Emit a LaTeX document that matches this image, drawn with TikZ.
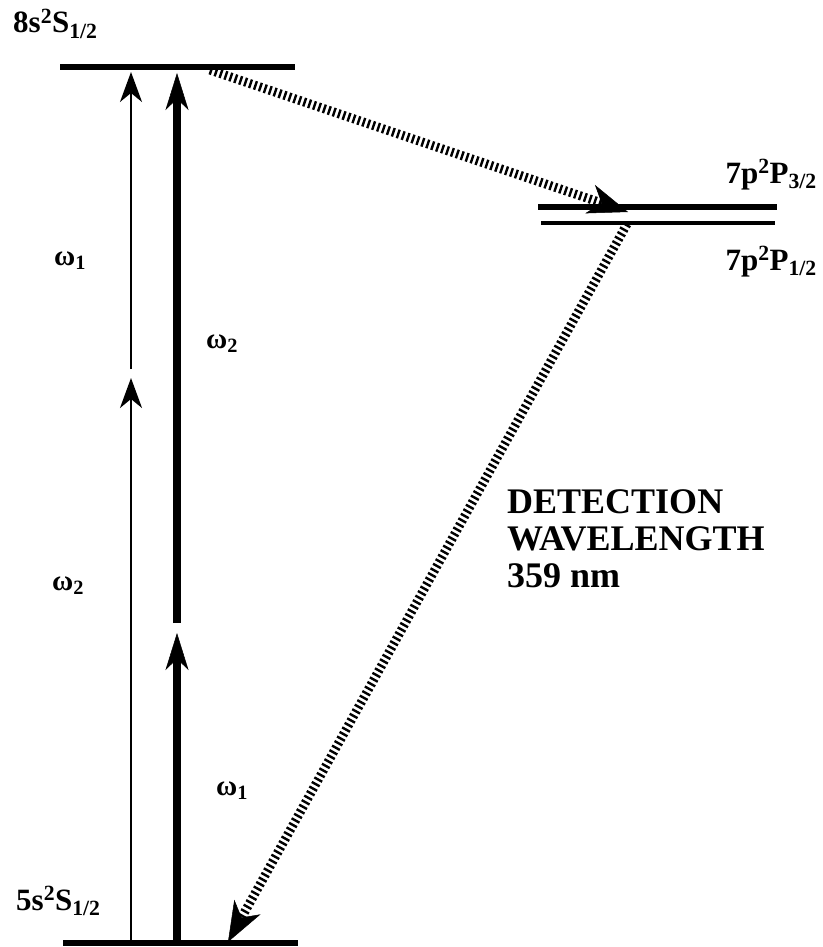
\documentclass[tikz,border=0pt]{standalone}
\usepackage{fontspec}
\setmainfont{Liberation Serif}
\usetikzlibrary{arrows.meta}
\usetikzlibrary{positioning}

\begin{document}
\begin{tikzpicture}[x=1pt,y=-1pt,
  level/.style={line width=5.5pt},
  lbl/.style={inner sep=0pt,font=\fontsize{31}{34}\selectfont\bfseries},
  freq/.style={inner sep=0pt,font=\fontsize{29}{32}\selectfont\bfseries},
  weak/.style={line width=1.8pt,-{Stealth[length=30pt,width=22pt,inset=9pt]}},
  strong/.style={line width=8pt,-{Stealth[length=37pt,width=23pt,inset=11pt,line width=0.5pt]}},
  fluor/.style={line width=9pt,dash pattern=on 2.4pt off 2.8pt,-{Stealth[length=40pt,width=30pt,inset=12pt,line width=0.5pt]}}]

  \useasboundingbox (0,0) rectangle (822,947);

  % Energy levels
  \coordinate (s8w) at (60,67);   \coordinate (s8e) at (295,67);
  \coordinate (p3w) at (538,207); \coordinate (p3e) at (777,207);
  \coordinate (p1w) at (541,223); \coordinate (p1e) at (775,223);
  \coordinate (s5w) at (63,943);  \coordinate (s5e) at (298,943);
  \draw[level,line width=6.5pt] (s8w) -- (s8e);
  \draw[level] (p3w) -- (p3e);
  \draw[level,line width=3.5pt] (p1w) -- (p1e);
  \draw[level] (s5w) -- (s5e);

  \node[lbl,anchor=base west] (l8s) at (13,33) {8s\textsuperscript{2}S\textsubscript{1/2}};
  \node[lbl,anchor=base east] (l7p3) at (817,183) {7p\textsuperscript{2}P\textsubscript{3/2}};
  \node[lbl,anchor=base east] (l7p1) at (817,270) {7p\textsuperscript{2}P\textsubscript{1/2}};
  \node[lbl,anchor=base west] (l5s) at (16,910) {5s\textsuperscript{2}S\textsubscript{1/2}};

  % Two-photon excitation, omega_1 + omega_2
  \coordinate (wa0) at (131,943); \coordinate (wa1) at (131,378);
  \coordinate (wa2) at (131,369); \coordinate (wa3) at (131,72);
  \coordinate (sa0) at (177,943); \coordinate (sa1) at (177,633);
  \coordinate (sa2) at (177,623); \coordinate (sa3) at (177,73);
  \draw[weak] (wa0) -- (wa1);
  \draw[weak] (wa2) -- (wa3);
  \draw[strong] (sa0) -- (sa1);
  \draw[strong] (sa2) -- (sa3);

  \node[freq,anchor=base west] (w1a) at (54,265) {ω\textsubscript{1}};
  \node[freq,anchor=base west] (w2a) at (206,348) {ω\textsubscript{2}};
  \node[freq,anchor=base west] (w2b) at (52,590) {ω\textsubscript{2}};
  \node[freq,anchor=base west] (w1b) at (216,795) {ω\textsubscript{1}};

  % Cascade and detected fluorescence
  \coordinate (fa0) at (210,70);  \coordinate (fa1) at (628,212);
  \coordinate (fb0) at (627,224); \coordinate (fb1) at (228,942);
  \draw[fluor] (fa0) -- (fa1);
  \draw[fluor] (fb0) -- (fb1);

  \node[anchor=north west,inner sep=0pt,align=left,
        font=\fontsize{36}{37}\selectfont\bfseries] (det) at (507,489)
        {DETECTION\\WAVELENGTH\\359 nm};
\end{tikzpicture}
\end{document}
